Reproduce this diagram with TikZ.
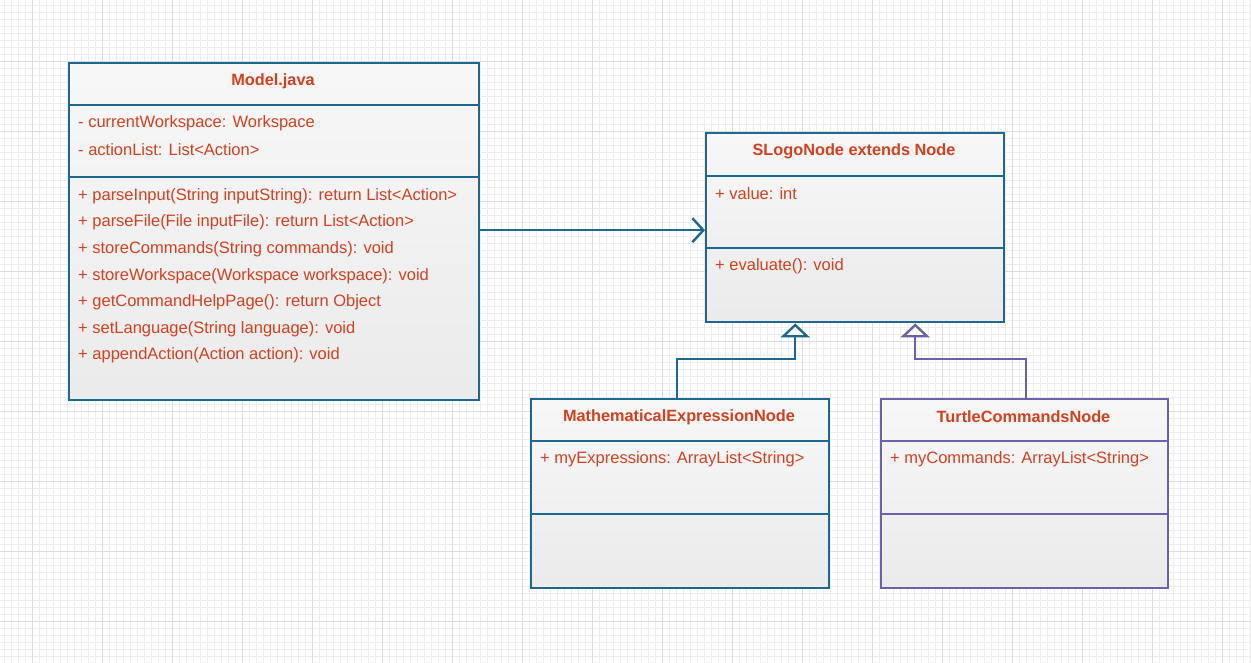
\documentclass[tikz,border=0pt]{standalone}
\usepackage{fontspec}
\setmainfont{Liberation Sans}
\usetikzlibrary{arrows.meta,calc}
\definecolor{umlblue}{HTML}{1D6891}
\definecolor{umlpurple}{HTML}{6B62AE}
\definecolor{umltext}{HTML}{D3411F}
\definecolor{gridminor}{HTML}{EDEDED}
\definecolor{gridmajor}{HTML}{DCDCDC}
\tikzset{
  umlbox/.style={rectangle, anchor=north west, draw=#1, line width=2.4pt, top color=white!97!black, bottom color=white!92!black, inner sep=0pt},
  divider/.style={draw=#1, line width=2.4pt},
  title/.style={text=umltext, font=\fontsize{16.3}{19}\selectfont\bfseries, inner sep=0pt},
  member/.style={text=umltext, font=\fontsize{16.5}{19}\selectfont, anchor=west, inner sep=0pt},
  assoc/.style={draw=umlblue, line width=2.4pt, -{Straight Barb[length=11pt,width=24pt,line width=2.4pt]}},
  inh/.style={draw=#1, line width=2.4pt, -{Triangle[open,length=14pt,width=29pt,line width=2.4pt,fill=white]}},
}
\begin{document}
\begin{tikzpicture}[x=1pt,y=-1pt]
\useasboundingbox (0,0) rectangle (1251,663);
\fill[white] (0,0) rectangle (1251,663);
% grid
\foreach \i in {0,...,178} {\draw[gridminor, line width=0.7pt] ({4+7*\i},0) -- ({4+7*\i},663);}
\foreach \i in {0,...,94} {\draw[gridminor, line width=0.7pt] (0,{5+7*\i}) -- (1251,{5+7*\i});}
\foreach \i in {0,...,17} {\draw[gridmajor, line width=0.9pt] ({32+70*\i},0) -- ({32+70*\i},663);}
\foreach \i in {-1,...,9} {\draw[gridmajor, line width=0.9pt] (0,{61+70*\i}) -- (1251,{61+70*\i});}

% Model.java
\node[umlbox=umlblue, minimum width=410pt, minimum height=337pt] (model) at (68,62) {};
\draw[divider=umlblue] (68,105) -- (478,105);
\draw[divider=umlblue] (68,177) -- (478,177);
\node[title] (modelt) at (273,81) {Model.java};
\node[member] (m1) at (78,123.5) {- currentWorkspace: Workspace};
\node[member] (m2) at (78,149.5) {- actionList: List<Action>};
\node[member] (m3) at (78,196.5) {+ parseInput(String inputString): return List<Action>};
\node[member] (m4) at (78,222.5) {+ parseFile(File inputFile): return List<Action>};
\node[member] (m5) at (78,249.5) {+ storeCommands(String commands): void};
\node[member] (m6) at (78,276.5) {+ storeWorkspace(Workspace workspace): void};
\node[member] (m7) at (78,302.5) {+ getCommandHelpPage(): return Object};
\node[member] (m8) at (78,329.5) {+ setLanguage(String language): void};
\node[member] (m9) at (78,355.5) {+ appendAction(Action action): void};

% SLogoNode
\node[umlbox=umlblue, minimum width=298pt, minimum height=189pt] (slogo) at (705,132) {};
\draw[divider=umlblue] (705,176) -- (1003,176);
\draw[divider=umlblue] (705,248) -- (1003,248);
\node[title] (slogot) at (854,151) {SLogoNode extends Node};
\node[member] (s1) at (715,193.5) {+ value: int};
\node[member] (s2) at (715,266.5) {+ evaluate(): void};

% MathematicalExpressionNode
\node[umlbox=umlblue, minimum width=298pt, minimum height=189pt] (math) at (530,398) {};
\draw[divider=umlblue] (530,441) -- (828,441);
\draw[divider=umlblue] (530,514) -- (828,514);
\node[title] (matht) at (679,417) {MathematicalExpressionNode};
\node[member] (ma1) at (540,459.5) {+ myExpressions: ArrayList<String>};

% TurtleCommandsNode
\node[umlbox=umlpurple, minimum width=287pt, minimum height=189pt] (turtle) at (880,398) {};
\draw[divider=umlpurple] (880,441) -- (1167,441);
\draw[divider=umlpurple] (880,514) -- (1167,514);
\node[title] (turtlet) at (1023.5,417) {TurtleCommandsNode};
\node[member] (t1) at (890,459.5) {+ myCommands: ArrayList<String>};

% connectors
\draw[assoc] ([yshift=1.5pt]model.east) -- ([yshift=1.5pt]model.east -| slogo.west);
\draw[inh=umlblue] ([xshift=-3pt]math.north) -- ++(0,-39) -| ([xshift=-60pt]slogo.south);
\draw[inh=umlpurple] ([xshift=1.5pt]turtle.north) -- ++(0,-39) -| ([xshift=60pt]slogo.south);
\end{tikzpicture}
\end{document}
